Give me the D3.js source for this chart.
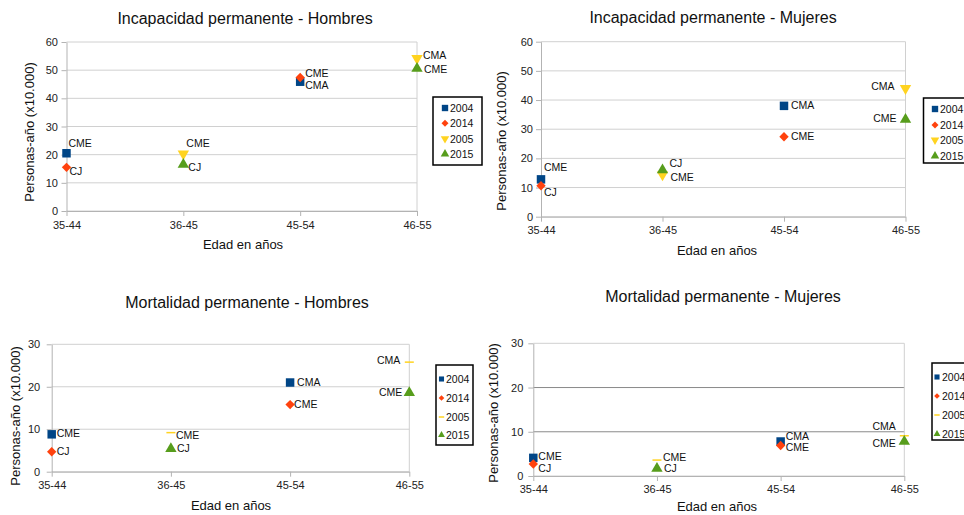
<!DOCTYPE html>
<html>
<head>
<meta charset="utf-8">
<script src="https://cdn.jsdelivr.net/npm/d3@7"></script>
<style>
    html, body { margin: 0; padding: 0; background: #fff; }
    svg { display: block; font-family: "Liberation Sans", Arial, sans-serif; }
</style>
</head>
<body>
<svg id="chart" width="964" height="515"></svg>
<script>
// categories and series
const ageGroups = ['35-44', '36-45', '45-54', '46-55'];
const years = ['2004', '2014', '2005', '2015'];

// points: year, age group, value, label
const incapHombres = [
    {year: '2004', age: '35-44', value: 20.5, label: 'CME'},
    {year: '2014', age: '35-44', value: 15.5, label: 'CJ'},
    {year: '2005', age: '36-45', value: 20.3, label: 'CME'},
    {year: '2015', age: '36-45', value: 16.5, label: 'CJ'},
    {year: '2004', age: '45-54', value: 45.9, label: 'CMA'},
    {year: '2014', age: '45-54', value: 47.4, label: 'CME'},
    {year: '2005', age: '46-55', value: 54.2, label: 'CMA'},
    {year: '2015', age: '46-55', value: 50.6, label: 'CME'}
];
const incapMujeres = [
    {year: '2004', age: '35-44', value: 12.8, label: 'CME'},
    {year: '2014', age: '35-44', value: 10.6, label: 'CJ'},
    {year: '2005', age: '36-45', value: 14.4, label: 'CME'},
    {year: '2015', age: '36-45', value: 16.0, label: 'CJ'},
    {year: '2004', age: '45-54', value: 38.0, label: 'CMA'},
    {year: '2014', age: '45-54', value: 27.4, label: 'CME'},
    {year: '2005', age: '46-55', value: 44.0, label: 'CMA'},
    {year: '2015', age: '46-55', value: 33.3, label: 'CME'}
];
const mortHombres = [
    {year: '2004', age: '35-44', value: 8.8, label: 'CME'},
    {year: '2014', age: '35-44', value: 4.7, label: 'CJ'},
    {year: '2005', age: '36-45', value: 9.2, label: 'CME'},
    {year: '2015', age: '36-45', value: 5.4, label: 'CJ'},
    {year: '2004', age: '45-54', value: 21.0, label: 'CMA'},
    {year: '2014', age: '45-54', value: 15.8, label: 'CME'},
    {year: '2005', age: '46-55', value: 25.8, label: 'CMA'},
    {year: '2015', age: '46-55', value: 18.6, label: 'CME'}
];
const mortMujeres = [
    {year: '2004', age: '35-44', value: 4.1, label: 'CME'},
    {year: '2014', age: '35-44', value: 2.7, label: 'CJ'},
    {year: '2005', age: '36-45', value: 3.6, label: 'CME'},
    {year: '2015', age: '36-45', value: 1.7, label: 'CJ'},
    {year: '2004', age: '45-54', value: 7.8, label: 'CMA'},
    {year: '2014', age: '45-54', value: 6.9, label: 'CME'},
    {year: '2005', age: '46-55', value: 9.1, label: 'CMA'},
    {year: '2015', age: '46-55', value: 7.8, label: 'CME'}
];
const incapTicks = [0, 10, 20, 30, 40, 50, 60];
const mortTicks = [0, 10, 20, 30];

// label offsets from the marker, same order as the data: dx, dy, anchor
const placeIH = [[2, -6, 'start'], [3, 8, 'start'], [3, -7, 'start'], [5, 6, 'start'],
                 [5, 7, 'start'], [5, 0, 'start'], [6, 1, 'start'], [7, 5, 'start']];
const placeIM = [[3, -8, 'start'], [3, 10, 'start'], [8, 6, 'start'], [7, -3, 'start'],
                 [7, 3, 'start'], [7, 3, 'start'], [-11, 2, 'end'], [-9, 2, 'end']];
const placeMH = [[5, 3, 'start'], [5, 3.5, 'start'], [5, 6, 'start'], [6, 3, 'start'],
                 [7, 3, 'start'], [4, 3.5, 'start'], [-9, 1.5, 'end'], [-7, 3, 'end']];
const placeMM = [[5, 2.5, 'start'], [5, 7.5, 'start'], [6, 1, 'start'], [7, 4, 'start'],
                 [5, -1, 'start'], [5, 6, 'start'], [-8.5, -6, 'end'], [-8.5, 5.5, 'end']];

const colors = {'2004': '#004586', '2014': '#ff420e', '2005': '#ffd320', '2015': '#579d1c'};

const panels = [
    {
        title: 'Incapacidad permanente - Hombres', data: incapHombres, places: placeIH,
        ticks: incapTicks, x0: 66.5, x1: 417, yTop: 42, y0: 211, dash: false,
        titleX: 245, titleY: 24, yTitleX: 34, yTitleY: 132, xTitleX: 243, xTitleY: 249,
        tickPad: 3.5, xLabelY: 229,
        legend: {x: 433, y: 97, w: 49, h: 68, rows: [108, 123.3, 138.6, 154], mx: 445, tx: 450, ms: 1}
    },
    {
        title: 'Incapacidad permanente - Mujeres', data: incapMujeres, places: placeIM,
        ticks: incapTicks, x0: 541, x1: 905.5, yTop: 41.7, y0: 216.7, dash: false,
        titleX: 713, titleY: 23, yTitleX: 506, yTitleY: 141, xTitleX: 717, xTitleY: 255,
        tickPad: 3, xLabelY: 234,
        legend: {x: 923.5, y: 98, w: 60, h: 65, rows: [109, 125, 140, 156], mx: 935, tx: 940, ms: 1}
    },
    {
        title: 'Mortalidad permanente - Hombres', data: mortHombres, places: placeMH,
        ticks: mortTicks, x0: 51.7, x1: 409.3, yTop: 344.3, y0: 471.7, dash: true,
        titleX: 247, titleY: 308, yTitleX: 19.5, yTitleY: 416, xTitleX: 231, xTitleY: 510,
        tickPad: 6.5, xLabelY: 489,
        legend: {x: 436, y: 365, w: 37, h: 80, rows: [379, 398, 417, 435], mx: 441.5, tx: 446, ms: 0.8}
    },
    {
        title: 'Mortalidad permanente - Mujeres', data: mortMujeres, places: placeMM,
        ticks: mortTicks, x0: 533.3, x1: 904.3, yTop: 343.3, y0: 476, dash: true, darkGrid: [10, 20],
        titleX: 723, titleY: 302, yTitleX: 497.5, yTitleY: 413, xTitleX: 717, xTitleY: 511,
        tickPad: 5, xLabelY: 493,
        legend: {x: 932, y: 363, w: 60, h: 77, rows: [377, 396, 415, 434], mx: 937, tx: 942, ms: 0.8}
    }
];

const svg = d3.select('#chart');

function markerPath(year, scale, dash) {
    if (year === '2004') return d3.symbol(d3.symbolSquare, 72 * scale * scale)();
    if (year === '2014') return d3.symbol(d3.symbolDiamond2 || d3.symbolDiamond, 56 * scale * scale)();
    if (year === '2005') {
        if (dash) { const h = 4.5 * scale; return `M${-h},0L${h},0`; }
        return d3.symbol(d3.symbolTriangle, 56 * scale * scale)();
    }
    return d3.symbol(d3.symbolTriangle, 56 * scale * scale)();
}

function drawMarker(g, year, scale, dash) {
    const isDash = dash && year === '2005';
    g.append('path')
        .attr('d', markerPath(year, scale, dash))
        .attr('transform', year === '2005' && !dash ? 'rotate(180)' : null)
        .attr('fill', isDash ? 'none' : colors[year])
        .attr('stroke', isDash ? colors[year] : 'none')
        .attr('stroke-width', isDash ? 1.5 : 0);
}

panels.forEach(p => {
    const g = svg.append('g');
    const x = d3.scalePoint().domain(ageGroups).range([p.x0, p.x1]).padding(0);
    const y = d3.scaleLinear().domain([0, d3.max(p.ticks)]).range([p.y0, p.yTop]);

    // gridlines
    g.append('g').selectAll('line')
        .data(p.ticks)
        .join('line')
        .attr('x1', p.x0).attr('x2', p.x1)
        .attr('y1', d => y(d)).attr('y2', d => y(d))
        .attr('stroke', d => (p.darkGrid && p.darkGrid.includes(d)) ? '#8a8a8a' : '#d0d0d0')
        .attr('stroke-width', 1);

    // right frame edge
    g.append('line')
        .attr('x1', p.x1).attr('x2', p.x1)
        .attr('y1', p.yTop).attr('y2', p.y0)
        .attr('stroke', '#d0d0d0');

    // y axis
    const yAxis = g.append('g')
        .attr('transform', `translate(${p.x0},0)`)
        .call(d3.axisLeft(y).tickValues(p.ticks).tickSize(5).tickPadding(p.tickPad).tickSizeOuter(0));
    yAxis.select('.domain').attr('stroke', '#b3b3b3');
    yAxis.selectAll('.tick line').attr('stroke', '#b3b3b3');
    yAxis.selectAll('text').attr('font-size', 11).attr('fill', '#222')
        .attr('font-family', '"Liberation Sans", Arial, sans-serif');

    // x axis
    const xAxis = g.append('g')
        .attr('transform', `translate(0,${p.y0})`)
        .call(d3.axisBottom(x).tickSize(5).tickSizeOuter(0));
    xAxis.select('.domain').attr('stroke', '#b3b3b3');
    xAxis.selectAll('.tick line').attr('stroke', '#b3b3b3');
    xAxis.selectAll('text').attr('font-size', 11).attr('fill', '#222')
        .attr('font-family', '"Liberation Sans", Arial, sans-serif')
        .attr('y', p.xLabelY - p.y0).attr('dy', null);

    // titles
    g.append('text')
        .attr('x', p.titleX).attr('y', p.titleY)
        .attr('text-anchor', 'middle')
        .attr('font-size', 16).attr('fill', '#111')
        .text(p.title);
    g.append('text')
        .attr('transform', `translate(${p.yTitleX},${p.yTitleY}) rotate(-90)`)
        .attr('text-anchor', 'middle')
        .attr('font-size', 13).attr('fill', '#111')
        .text('Personas-año (x10.000)');
    g.append('text')
        .attr('x', p.xTitleX).attr('y', p.xTitleY)
        .attr('text-anchor', 'middle')
        .attr('font-size', 13).attr('fill', '#111')
        .text('Edad en años');

    // points with labels
    p.data.forEach((d, i) => {
        const px = x(d.age), py = y(d.value);
        const mg = g.append('g').attr('transform', `translate(${px},${py})`);
        drawMarker(mg, d.year, 1, p.dash);
        const [dx, dy, anchor] = p.places[i];
        g.append('text')
            .attr('x', px + dx).attr('y', py + dy)
            .attr('text-anchor', anchor)
            .attr('font-size', 10.5).attr('fill', '#111')
            .text(d.label);
    });

    // legend
    const L = p.legend;
    g.append('rect')
        .attr('x', L.x).attr('y', L.y).attr('width', L.w).attr('height', L.h)
        .attr('fill', '#fff').attr('stroke', '#000').attr('stroke-width', 1.5);
    years.forEach((yr, i) => {
        const mg = g.append('g').attr('transform', `translate(${L.mx},${L.rows[i]})`);
        drawMarker(mg, yr, 0.75 * L.ms, p.dash);
        g.append('text')
            .attr('x', L.tx).attr('y', L.rows[i] + 4)
            .attr('font-size', 10.5).attr('fill', '#111')
            .text(yr);
    });
});
</script>
</body>
</html>
